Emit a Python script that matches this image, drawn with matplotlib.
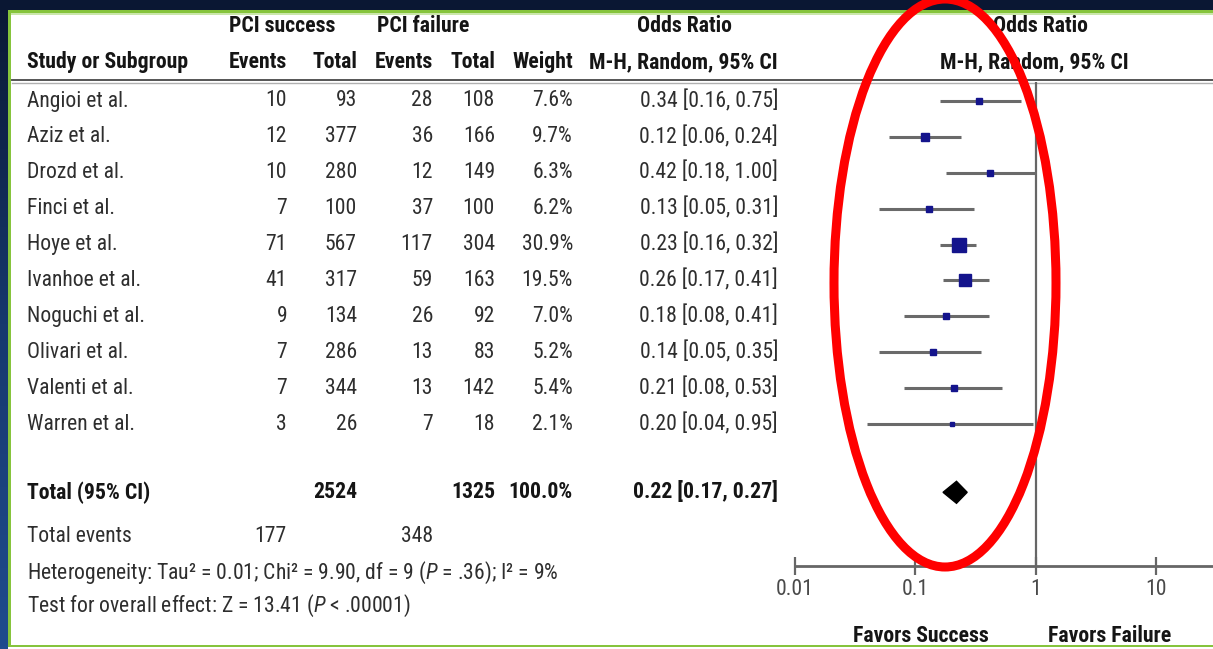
import numpy as np
import matplotlib
matplotlib.use('Agg')
import matplotlib.pyplot as plt
from matplotlib import font_manager
from matplotlib.colors import LinearSegmentedColormap
from matplotlib.patches import Rectangle, Ellipse, Polygon

W, H = 1213, 649

# study table
studies = ['Angioi et al.', 'Aziz et al.', 'Drozd et al.', 'Finci et al.', 'Hoye et al.',
           'Ivanhoe et al.', 'Noguchi et al.', 'Olivari et al.', 'Valenti et al.', 'Warren et al.']
succ_events = [10, 12, 10, 7, 71, 41, 9, 7, 7, 3]
succ_total = [93, 377, 280, 100, 567, 317, 134, 286, 344, 26]
fail_events = [28, 36, 12, 37, 117, 59, 26, 13, 13, 7]
fail_total = [108, 166, 149, 100, 304, 163, 92, 83, 142, 18]
weight = [7.6, 9.7, 6.3, 6.2, 30.9, 19.5, 7.0, 5.2, 5.4, 2.1]
odds = [0.34, 0.12, 0.42, 0.13, 0.23, 0.26, 0.18, 0.14, 0.21, 0.20]
ci_lo = [0.16, 0.06, 0.18, 0.05, 0.16, 0.17, 0.08, 0.05, 0.08, 0.04]
ci_hi = [0.75, 0.24, 1.00, 0.31, 0.32, 0.41, 0.41, 0.35, 0.53, 0.95]

# pooled result
tot_succ, tot_fail, tot_weight = 2524, 1325, 100.0
tot_ev_succ, tot_ev_fail = 177, 348
pooled_or, pooled_lo, pooled_hi = 0.22, 0.17, 0.27

xticks = [0.01, 0.1, 1, 10]
xtick_labels = ['0.01', '0.1', '1', '10']

NARROW = ('condensed', 'semi-condensed', 'extra-condensed', 'ultra-condensed')


def pick_font():
    # prefer a narrow sans face, the table is tight
    found = {}
    for f in font_manager.fontManager.ttflist:
        st = f.stretch
        narrow = ('Narrow' in f.name or 'Condensed' in f.name or st in NARROW
                  or (isinstance(st, (int, float)) and st < 500))
        if narrow:
            found.setdefault(f.name, []).append(st)
    prefs = ['Liberation Sans Narrow', 'Arial Narrow', 'Roboto Condensed', 'Noto Sans Condensed',
             'Open Sans Condensed', 'Noto Sans', 'Open Sans', 'DejaVu Sans Condensed',
             'DejaVu Sans', 'Roboto', 'Inter', 'Lato']
    for p in prefs:
        if p in found:
            sts = [s for s in found[p] if s in NARROW]
            return p, ('condensed' if 'condensed' in sts else (sts[0] if sts else 'normal'))
    if found:
        name = sorted(found)[0]
        return name, 'normal'
    return 'Liberation Sans', 'normal'


FONT, STRETCH = pick_font()
plt.rcParams['font.family'] = [FONT, 'DejaVu Sans']
plt.rcParams['font.stretch'] = STRETCH
plt.rcParams['mathtext.fontset'] = 'custom'
plt.rcParams['mathtext.rm'] = FONT
plt.rcParams['mathtext.it'] = FONT + ':italic'

TXT = '#2e2e2e'
BLD = '#151515'
GRID = '#666666'

ROW0, ROWH = 101, 35.9
TOTAL_ROW = 10.9


def row_y(i):
    return ROW0 + ROWH * i


fig = plt.figure(figsize=(W / 100, H / 100), dpi=100)
renderer = fig.canvas.get_renderer()


def fit_size(s, px, bold=False):
    t = fig.text(0, 0, s, fontsize=10, fontweight='bold' if bold else 'normal')
    w = t.get_window_extent(renderer=renderer).width
    t.remove()
    return min(17.5, 10 * px / w)


FS = fit_size('0.34 [0.16, 0.75]', 137)
FSB = fit_size('M-H, Random, 95% CI', 188, bold=True)

bg = fig.add_axes([0, 0, 1, 1])
bg.axis('off')

# frame: navy band, blue side strip, green border
bg.add_patch(Rectangle((0, 0), W, 9.5, color='#0a1733', lw=0))
side = LinearSegmentedColormap.from_list('side', ['#0a1733', '#17386e', '#1f4c8e'])
bg.imshow(np.linspace(0, 1, 200)[:, None], cmap=side, extent=(0, 8, H, 0), aspect='auto')
bg.add_patch(Rectangle((8, 9.5), W - 8, 3.5, color='#86c43c', lw=0))
bg.add_patch(Rectangle((8, 13), W - 8, 1.5, color='#cbe7ab', lw=0))
bg.add_patch(Rectangle((8, 9.5), 2.5, 637, color='#86c43c', lw=0))
bg.add_patch(Rectangle((8, 644.5), W - 8, 2.5, color='#86c43c', lw=0))
bg.set_xlim(0, W)
bg.set_ylim(H, 0)

# header
hdr = dict(fontsize=FSB, color=BLD, fontweight='bold', va='center')
bg.text(282, 26, 'PCI success', ha='center', **hdr)
bg.text(423, 26, 'PCI failure', ha='center', **hdr)
bg.text(684, 26, 'Odds Ratio', ha='center', **hdr)
bg.text(1040, 26, 'Odds Ratio', ha='center', **hdr)
bg.text(27, 62, 'Study or Subgroup', ha='left', **hdr)
for x, s in [(287, 'Events'), (357, 'Total'), (433, 'Events'), (495, 'Total'),
             (573, 'Weight'), (778, 'M-H, Random, 95% CI')]:
    bg.text(x, 62, s, ha='right', **hdr)
bg.text(1034, 62, 'M-H, Random, 95% CI', ha='center', **hdr)
bg.plot([12, W], [80, 80], color='#555555', lw=1.4)
bg.plot([12, W], [83, 83], color='#b0b0b0', lw=1.0)

# study rows
body = dict(fontsize=FS, color=TXT, va='center')
for i, name in enumerate(studies):
    y = row_y(i)
    bg.text(27, y, name, ha='left', **body)
    bg.text(287, y, str(succ_events[i]), ha='right', **body)
    bg.text(357, y, str(succ_total[i]), ha='right', **body)
    bg.text(433, y, str(fail_events[i]), ha='right', **body)
    bg.text(495, y, str(fail_total[i]), ha='right', **body)
    bg.text(573, y, f'{weight[i]:.1f}%', ha='right', **body)
    bg.text(778, y, f'{odds[i]:.2f} [{ci_lo[i]:.2f}, {ci_hi[i]:.2f}]', ha='right', **body)

# totals and footer
yt = row_y(TOTAL_ROW)
bg.text(27, yt, 'Total (95% CI)', ha='left', **hdr)
bg.text(357, yt, str(tot_succ), ha='right', **hdr)
bg.text(495, yt, str(tot_fail), ha='right', **hdr)
bg.text(573, yt, f'{tot_weight:.1f}%', ha='right', **hdr)
bg.text(778, yt, f'{pooled_or:.2f} [{pooled_lo:.2f}, {pooled_hi:.2f}]', ha='right', **hdr)
bg.text(27, 537, 'Total events', ha='left', **body)
bg.text(287, 537, str(tot_ev_succ), ha='right', **body)
bg.text(433, 537, str(tot_ev_fail), ha='right', **body)
bg.text(27, 573, 'Heterogeneity: Tau² = 0.01; Chi² = 9.90, df = 9 ($\\mathit{P}$ = .36); I² = 9%',
        ha='left', **body)
bg.text(27, 606, 'Test for overall effect: Z = 13.41 ($\\mathit{P}$ < .00001)', ha='left', **body)
bg.text(921, 636, 'Favors Success', ha='center', **hdr)
bg.text(1110, 636, 'Favors Failure', ha='center', **hdr)

# forest panel on a log axis, rows share the table's row spacing
X0, DEC = 795, 120.3
TOP, BOT = 82, 566
ax = fig.add_axes([X0 / W, 1 - BOT / H, (W - X0) / W, (BOT - TOP) / H])
ax.patch.set_alpha(0)
ax.set_xscale('log')
ax.set_xlim(0.01, 10 ** ((W - X0) / DEC - 2))
ax.set_ylim((BOT - ROW0) / ROWH, (TOP - ROW0) / ROWH)
for s in ['top', 'right', 'left']:
    ax.spines[s].set_visible(False)
ax.spines['bottom'].set_color(GRID)
ax.spines['bottom'].set_linewidth(2)
ax.set_xticks(xticks)
ax.set_xticklabels(xtick_labels)
ax.xaxis.set_minor_locator(matplotlib.ticker.NullLocator())
ax.set_yticks([])
ax.tick_params(axis='x', direction='inout', length=13, width=1.6, color=GRID,
               labelsize=FS, labelcolor='#4a4a4a', pad=3)
ax.axvline(1, color=GRID, lw=1.6)

rows = np.arange(len(studies))
ax.hlines(rows, ci_lo, ci_hi, color='#6a6a6a', lw=2.2)
for r, o, w in zip(rows, odds, weight):
    ax.plot(o, r, 's', ms=1.81 * np.sqrt(w), color='#14148c', mec='#14148c')

dh = 11 / ROWH
ax.add_patch(Polygon([(pooled_lo, TOTAL_ROW), (pooled_or, TOTAL_ROW - dh),
                      (pooled_hi, TOTAL_ROW), (pooled_or, TOTAL_ROW + dh)],
                     closed=True, color='black'))

# red highlight ring over the study estimates
fig.add_artist(Ellipse((945, 283), 222, 568, fill=False, ec='#ff0000', lw=6.5,
                       transform=bg.transData))

fig.savefig('out.png', dpi=100)
